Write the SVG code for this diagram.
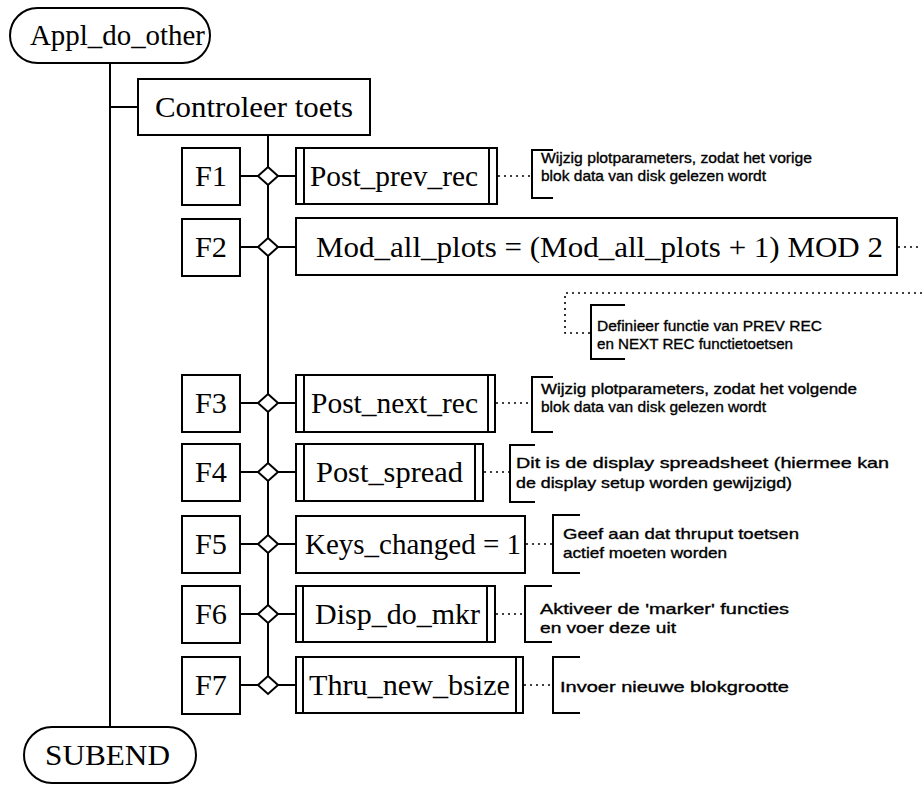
<svg xmlns="http://www.w3.org/2000/svg" width="922" height="785" viewBox="0 0 922 785">
  <style>
    .box { fill: #fff; stroke: #000; stroke-width: 2; }
    .ln { fill: none; stroke: #000; stroke-width: 2; }
    .dot { fill: none; stroke: #000; stroke-width: 1.6; stroke-dasharray: 2 4; }
    .brk { fill: none; stroke: #000; stroke-width: 2; }
    .lbl { font-family: "Liberation Serif", "Times New Roman", serif; font-size: 29px; fill: #000; }
    .note { font-family: "Liberation Sans", Arial, sans-serif; font-size: 15px; fill: #000; stroke: #000; stroke-width: 0.35; }
  </style>
  <defs>
    <polygon id="dia" points="0,-9 10,0 0,9 -10,0" fill="#fff" stroke="#000" stroke-width="2"/>
  </defs>

  <!-- connectors -->
  <g id="connectors">
    <line class="ln" x1="110" y1="63" x2="110" y2="727"/>
    <line class="ln" x1="110" y1="107" x2="138" y2="107"/>
    <line class="ln" x1="268" y1="135" x2="268" y2="685"/>
    <!-- selector rows -->
    <path class="ln" d="M240 176H296M240 247H296M240 403H296M240 472H296M240 544H296M240 614H296M240 685H296"/>
    <use href="#dia" x="268" y="176"/>
    <use href="#dia" x="268" y="247"/>
    <use href="#dia" x="268" y="403"/>
    <use href="#dia" x="268" y="472"/>
    <use href="#dia" x="268" y="544"/>
    <use href="#dia" x="268" y="614"/>
    <use href="#dia" x="268" y="685"/>
    <!-- comment links -->
    <path class="dot" d="M498 176H531"/>
    <path class="dot" d="M898 247H922"/>
    <path class="dot" d="M922 293H565V333H590"/>
    <path class="dot" d="M496 403H531"/>
    <path class="dot" d="M484 472H509"/>
    <path class="dot" d="M526 544H552"/>
    <path class="dot" d="M496 614H524"/>
    <path class="dot" d="M524 685H552"/>
  </g>

  <!-- start / end -->
  <g id="start">
    <rect class="box" x="10" y="8" width="200" height="55" rx="27.5"/>
    <text class="lbl" x="30" y="45" textLength="175" lengthAdjust="spacingAndGlyphs">Appl_do_other</text>
  </g>
  <g id="end">
    <rect class="box" x="24" y="727" width="172" height="56" rx="28"/>
    <text class="lbl" x="45" y="765" textLength="125" lengthAdjust="spacingAndGlyphs">SUBEND</text>
  </g>

  <g id="controleer">
    <rect class="box" x="138" y="79" width="232" height="56"/>
    <text class="lbl" x="155" y="117" textLength="198" lengthAdjust="spacingAndGlyphs">Controleer toets</text>
  </g>

  <!-- key labels -->
  <g id="f1"><rect class="box" x="182" y="148" width="58" height="57"/><text class="lbl" x="195" y="186" textLength="32" lengthAdjust="spacingAndGlyphs">F1</text></g>
  <g id="f2"><rect class="box" x="182" y="219" width="58" height="57"/><text class="lbl" x="195" y="257" textLength="32" lengthAdjust="spacingAndGlyphs">F2</text></g>
  <g id="f3"><rect class="box" x="182" y="375" width="58" height="57"/><text class="lbl" x="195" y="413" textLength="32" lengthAdjust="spacingAndGlyphs">F3</text></g>
  <g id="f4"><rect class="box" x="182" y="444" width="58" height="57"/><text class="lbl" x="195" y="482" textLength="32" lengthAdjust="spacingAndGlyphs">F4</text></g>
  <g id="f5"><rect class="box" x="182" y="516" width="58" height="57"/><text class="lbl" x="195" y="554" textLength="32" lengthAdjust="spacingAndGlyphs">F5</text></g>
  <g id="f6"><rect class="box" x="182" y="586" width="58" height="57"/><text class="lbl" x="195" y="624" textLength="32" lengthAdjust="spacingAndGlyphs">F6</text></g>
  <g id="f7"><rect class="box" x="182" y="657" width="58" height="57"/><text class="lbl" x="195" y="695" textLength="32" lengthAdjust="spacingAndGlyphs">F7</text></g>

  <!-- actions -->
  <g id="post-prev-rec">
    <rect class="box" x="296" y="148" width="201" height="56"/>
    <path class="ln" d="M304 148V204M489 148V204"/>
    <text class="lbl" x="310" y="186" textLength="168" lengthAdjust="spacingAndGlyphs">Post_prev_rec</text>
  </g>
  <g id="mod-all-plots">
    <rect class="box" x="296" y="218" width="601" height="57"/>
    <text class="lbl" x="316" y="257" textLength="567" lengthAdjust="spacingAndGlyphs">Mod_all_plots = (Mod_all_plots + 1) MOD 2</text>
  </g>
  <g id="post-next-rec">
    <rect class="box" x="296" y="375" width="199" height="57"/>
    <path class="ln" d="M304 375V432M488 375V432"/>
    <text class="lbl" x="311" y="413" textLength="167" lengthAdjust="spacingAndGlyphs">Post_next_rec</text>
  </g>
  <g id="post-spread">
    <rect class="box" x="296" y="444" width="187" height="57"/>
    <path class="ln" d="M304 444V501M475 444V501"/>
    <text class="lbl" x="316" y="482" textLength="147" lengthAdjust="spacingAndGlyphs">Post_spread</text>
  </g>
  <g id="keys-changed">
    <rect class="box" x="296" y="516" width="229" height="57"/>
    <text class="lbl" x="305" y="554" textLength="216" lengthAdjust="spacingAndGlyphs">Keys_changed = 1</text>
  </g>
  <g id="disp-do-mkr">
    <rect class="box" x="296" y="586" width="199" height="56"/>
    <path class="ln" d="M303 586V642M487 586V642"/>
    <text class="lbl" x="315" y="624" textLength="165" lengthAdjust="spacingAndGlyphs">Disp_do_mkr</text>
  </g>
  <g id="thru-new-bsize">
    <rect class="box" x="296" y="657" width="227" height="56"/>
    <path class="ln" d="M303 657V713M516 657V713"/>
    <text class="lbl" x="309" y="695" textLength="201" lengthAdjust="spacingAndGlyphs">Thru_new_bsize</text>
  </g>

  <!-- comments -->
  <g id="note-f1">
    <path class="brk" d="M553 150H532V198H553"/>
    <text class="note" x="541" y="163" textLength="271" lengthAdjust="spacingAndGlyphs">Wijzig plotparameters, zodat het vorige</text>
    <text class="note" x="541" y="181" textLength="225" lengthAdjust="spacingAndGlyphs">blok data van disk gelezen wordt</text>
  </g>
  <g id="note-prev-next">
    <path class="brk" d="M625 305H591V359H625"/>
    <text class="note" x="597" y="331" textLength="225" lengthAdjust="spacingAndGlyphs">Definieer functie van PREV REC</text>
    <text class="note" x="597" y="349" textLength="196" lengthAdjust="spacingAndGlyphs">en NEXT REC functietoetsen</text>
  </g>
  <g id="note-f3">
    <path class="brk" d="M553 377H532V432H553"/>
    <text class="note" x="541" y="394" textLength="316" lengthAdjust="spacingAndGlyphs">Wijzig plotparameters, zodat het volgende</text>
    <text class="note" x="541" y="412" textLength="225" lengthAdjust="spacingAndGlyphs">blok data van disk gelezen wordt</text>
  </g>
  <g id="note-f4">
    <path class="brk" d="M535 445H510V502H535"/>
    <text class="note" x="516" y="468" textLength="373" lengthAdjust="spacingAndGlyphs">Dit is de display spreadsheet (hiermee kan</text>
    <text class="note" x="516" y="488" textLength="276" lengthAdjust="spacingAndGlyphs">de display setup worden gewijzigd)</text>
  </g>
  <g id="note-f5">
    <path class="brk" d="M580 515H553V573H580"/>
    <text class="note" x="563" y="539" textLength="236" lengthAdjust="spacingAndGlyphs">Geef aan dat thruput toetsen</text>
    <text class="note" x="563" y="558" textLength="164" lengthAdjust="spacingAndGlyphs">actief moeten worden</text>
  </g>
  <g id="note-f6">
    <path class="brk" d="M552 586H525V642H552"/>
    <text class="note" x="540" y="614" textLength="249" lengthAdjust="spacingAndGlyphs">Aktiveer de 'marker' functies</text>
    <text class="note" x="540" y="633" textLength="136" lengthAdjust="spacingAndGlyphs">en voer deze uit</text>
  </g>
  <g id="note-f7">
    <path class="brk" d="M580 657H553V713H580"/>
    <text class="note" x="560" y="692" textLength="229" lengthAdjust="spacingAndGlyphs">Invoer nieuwe blokgrootte</text>
  </g>
</svg>
